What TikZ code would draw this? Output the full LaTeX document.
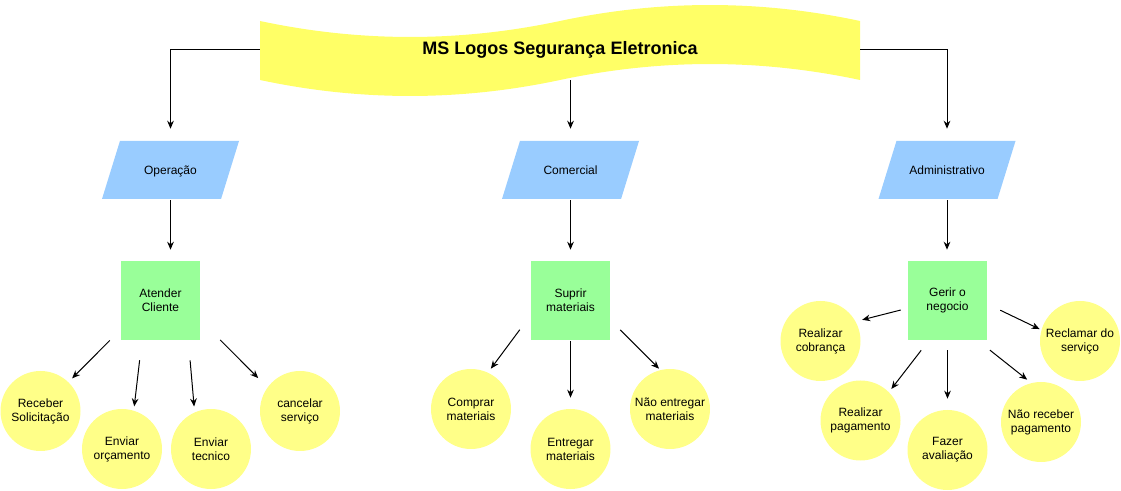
\documentclass[tikz,border=0pt]{standalone}
\usepackage{fontspec}
\setmainfont{Liberation Sans}
\usepackage{tikz}
\usetikzlibrary{arrows.meta,shapes.geometric}
\definecolor{faixa}{HTML}{FFFF66}
\definecolor{setorazul}{HTML}{99CCFF}
\definecolor{processoverde}{HTML}{99FF99}
\definecolor{tarefaamarela}{HTML}{FFFF88}

\begin{document}
\begin{tikzpicture}[x=0.75pt, y=-0.75pt, font=\fontsize{9}{10.5}\selectfont]
      \useasboundingbox (0,0) rectangle (1121,491);

      \fill[faixa] (260,21) .. controls (360,42.3) and (460,42.3) .. (560,21)
            .. controls (660,-0.3) and (760,-0.3) .. (860,21) -- (860,80)
            .. controls (760,58.7) and (660,58.7) .. (560,80)
            .. controls (460,101.3) and (360,101.3) .. (260,80) -- cycle;
      \node[minimum width=450pt, minimum height=45pt,
            font=\fontsize{13.5}{16}\selectfont\bfseries] (logo) at (560,50) {MS Logos Segurança Eletronica};

      \begin{scope}[every node/.style={trapezium, trapezium left angle=72.8, trapezium right angle=107.2,
                    trapezium stretches body=true, minimum width=102.75pt,
                    text height=8pt, text depth=1pt, inner xsep=0pt, inner ysep=17.25pt, fill=setorazul}]
          \node (op) at (170.5,170) {Operação};
          \node (com) at (570.5,170) {Comercial};
          \node (adm) at (947,170) {Administrativo};
      \end{scope}

      \begin{scope}[every node/.style={rectangle, minimum size=59.25pt, fill=processoverde, align=center}]
          \node (atend) at (160.5,300.5) {Atender\\Cliente};
          \node (suprir) at (570.5,300.5) {Suprir\\materiais};
          \node (gerir) at (947.5,300.5) {Gerir o\\negocio};
      \end{scope}

      \begin{scope}[every node/.style={circle, minimum size=60pt, inner sep=0pt, fill=tarefaamarela, align=center}]
          \node (rec) at (40.5,411) {Receber\\Solicitação};
          \node (orc) at (122,449) {Enviar\\orçamento};
          \node (tec) at (211,449) {Enviar\\tecnico};
          \node (canc) at (300,411) {cancelar\\serviço};
          \node (comp) at (471,409) {Comprar\\materiais};
          \node (entr) at (570.5,449) {Entregar\\materiais};
          \node (naoent) at (670,409) {Não entregar\\materiais};
          \node (cob) at (820.5,341) {Realizar\\cobrança};
          \node (pag) at (860.5,420.5) {Realizar\\pagamento};
          \node (aval) at (947.5,450) {Fazer\\avaliação};
          \node (naorec) at (1041,422) {Não receber\\pagamento};
          \node (recl) at (1080,341) {Reclamar do\\serviço};
      \end{scope}

      \begin{scope}[>={Stealth[length=6pt,width=5pt]}, line width=0.75pt,
                    every edge/.style={draw, line width=0.75pt}]
          \draw [->, shorten >=9pt] (logo.west) -| (op.north);
          \draw [->, shorten >=9pt] (com.north |- logo.south) -- (com.north);
          \draw [->, shorten >=9pt] (logo.east) -| (adm.north);
          \draw [->, shorten <=0.75pt, shorten >=8.25pt] (op.south) -- (op.south |- atend.north);
          \draw [->, shorten <=0.75pt, shorten >=8.25pt] (com.south) -- (com.south |- suprir.north);
          \draw [->, shorten <=0.75pt, shorten >=8.25pt] (adm.south) -- (adm.south |- gerir.north);
          \path [->] (atend.-144) edge [shorten <=11.7pt, shorten >=3.9pt] (rec.46);
          \path [->] (atend.-115) edge [shorten <=15.1pt, shorten >=3.1pt] (orc.73);
          \path [->] (atend.-55) edge [shorten <=15.1pt, shorten >=4.3pt] (tec.114);
          \path [->] (atend.-26) edge [shorten <=21.2pt, shorten >=9.8pt] (canc.144);
          \path [->] (suprir.-160) edge [shorten <=13.8pt, shorten >=3.6pt] (comp.65);
          \path [->] (suprir) edge [shorten <=0.75pt, shorten >=8.3pt] (entr);
          \path [->] (suprir.-26) edge [shorten <=10.6pt, shorten >=1.3pt] (naoent.104);
          \path [->] (gerir.-169) edge [shorten <=5.4pt, shorten >=5pt] (cob.29);
          \path [->] (gerir.-115.5) edge [shorten <=9.5pt, shorten >=2.9pt] (pag.45);
          \path [->] (gerir) edge [shorten <=7.5pt, shorten >=8.3pt] (aval);
          \path [->] (gerir.-53) edge [shorten <=11.9pt, shorten >=3.9pt] (naorec.104.5);
          \path [->] (gerir.-5) edge [shorten <=10.8pt, shorten >=1.4pt] (recl.164);
      \end{scope}
\end{tikzpicture}
\end{document}
